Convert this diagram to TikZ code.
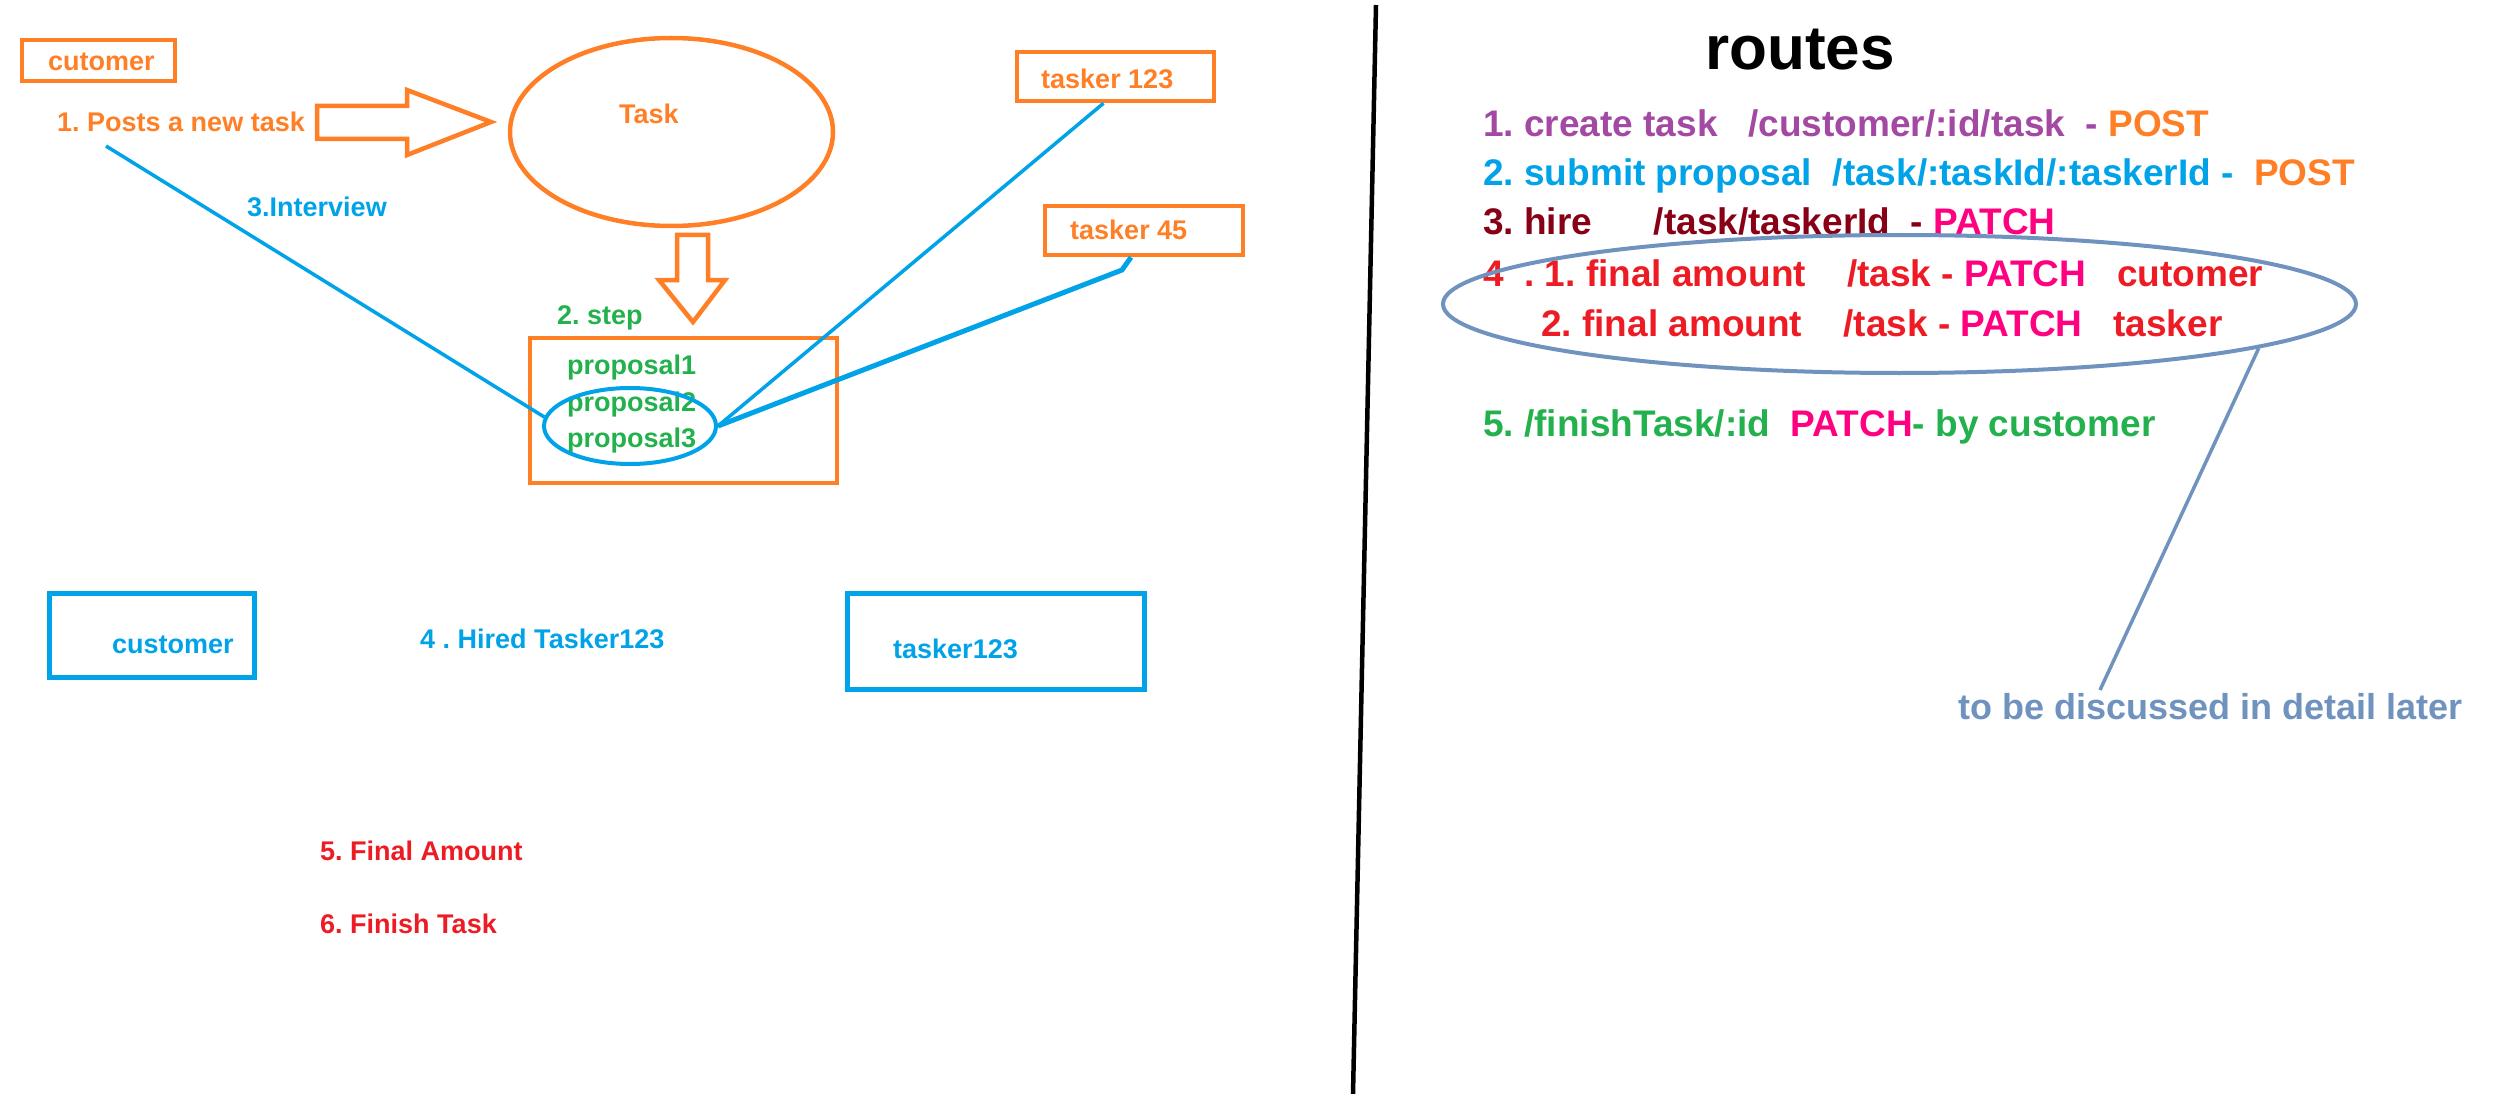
\documentclass[tikz,border=0pt]{standalone}
\usepackage{fontspec}
\setmainfont{Liberation Sans}
\usepackage{tikz}
\usetikzlibrary{shapes.geometric}
\usepackage{xcolor}
\definecolor{paintorange}{RGB}{255,127,39}
\definecolor{paintblue}{RGB}{0,162,232}
\definecolor{paintgreen}{RGB}{34,177,76}
\definecolor{paintred}{RGB}{237,28,36}
\definecolor{paintmaroon}{RGB}{136,0,21}
\definecolor{paintpurple}{RGB}{163,73,164}
\definecolor{paintpink}{RGB}{255,0,128}
\definecolor{paintgrey}{RGB}{112,146,190}
\frenchspacing

\begin{document}
\begin{tikzpicture}[x=1pt,y=-1pt]
\tikzstyle{txt} = [anchor=base west, inner sep=0pt,
font=\fontsize{27}{32}\selectfont\bfseries]
\tikzstyle{route} = [anchor=base west, inner sep=0pt,
font=\fontsize{37}{42}\selectfont\bfseries]
\tikzstyle{obox} = [rectangle, draw=paintorange, line width=4.5pt, inner sep=0pt]
\tikzstyle{bbox} = [rectangle, draw=paintblue, line width=5pt, inner sep=0pt]
\tikzstyle{oval} = [ellipse, draw=paintorange, line width=4.5pt, inner sep=0pt]
\tikzstyle{bigarrow} = [draw=paintorange, line width=4.5pt, fill=white, line join=miter]
\tikzstyle{link} = [draw=paintblue, line width=3.5pt];

\useasboundingbox (0,0) rectangle (2506,1094);

% left half: flow
\node [obox, minimum width=153pt, minimum height=41pt] (cutomerbox) at (98.5,60.5) {};
\node [txt, paintorange] (cutomer) at (48,71) {cutomer};
\node [txt, paintorange] (posts) at (57,132) {1. Posts a new task};
\node [oval, minimum width=323pt, minimum height=188pt] (taskoval) at (671.5,132) {};
\node [txt, paintorange] (task) at (619,124) {Task};
\node [txt, paintblue] (interview) at (247,217) {3.Interview};

\node [obox, minimum width=197pt, minimum height=49pt] (tasker1box) at (1115.5,76.5) {};
\node [txt, paintorange] (tasker1) at (1041,89) {tasker 123};
\node [obox, minimum width=198pt, minimum height=49pt] (tasker45box) at (1144,230.5) {};
\node [txt, paintorange] (tasker45) at (1070,240) {tasker 45};

\node [txt, paintgreen] (step) at (557,324) {2. step};
\node [obox, minimum width=307pt, minimum height=145pt] (propbox) at (683.5,410.5) {};
\node [txt, paintgreen] (prop1) at (567,374) {proposal1};
\node [txt, paintgreen] (prop2) at (567,411) {proposal2};
\node [txt, paintgreen] (prop3) at (567,447) {proposal3};
\node [ellipse, draw=paintblue, line width=4pt, inner sep=0pt,
minimum width=172pt, minimum height=76pt] (propoval) at (630,426) {};

\node [bbox, minimum width=205pt, minimum height=84pt] (custbox) at (152,635.5) {};
\node [txt, paintblue] (customer) at (112,653) {customer};
\node [txt, paintblue] (hired) at (420,648) {4 . Hired Tasker123};
\node [bbox, minimum width=297pt, minimum height=96pt] (hiredbox) at (996,641.5) {};
\node [txt, paintblue] (tasker123) at (893,658) {tasker123};

\node [txt, paintred] (final) at (320,860) {5. Final Amount};
\node [txt, paintred] (finish) at (320,933) {6. Finish Task};

% block arrows
\draw [bigarrow] (317,106) -- (407,106) -- (407,90) -- (491,122) -- (407,155)
  -- (407,139) -- (317,139) -- cycle;
\draw [bigarrow] (677,235) -- (708,235) -- (708,280) -- (725,280) -- (693,322)
  -- (659,280) -- (677,280) -- cycle;

% interview lines
\coordinate (custline) at (106,146);
\coordinate (kink) at (1122,270);
\path [link] (custline) -- (propoval.174);
\path [link] ([xshift=-12pt]tasker1box.south) -- (propoval.east);
\path [link, line width=5pt] ([xshift=-13pt]tasker45box.south) -- (kink) -- (propoval.east);

% divider
\draw [line width=4.5pt] (1376,5) -- (1353,1094);

% right half: routes
\node [anchor=base west, inner sep=0pt, font=\fontsize{62}{70}\selectfont\bfseries]
(routes) at (1705,70) {routes};
\node [route] (r1) at (1483,137) {\textcolor{paintpurple}{1. create task\ \ \ /customer/:id/task\ \ -\ }\textcolor{paintorange}{POST}};
\node [route] (r2) at (1483,186) {\textcolor{paintblue}{2. submit proposal\ \ /task/:taskId/:taskerId -\ \ }\textcolor{paintorange}{POST}};
\node [route] (r3) at (1483,235) {\textcolor{paintmaroon}{3. hire\ \ \ \ \ \ /task/taskerId\ \ -\ }\textcolor{paintpink}{PATCH}};
\node [route] (r4) at (1483,286) {\textcolor{paintred}{4\ \ . 1. final amount\ \ \ \ /task -\ }\textcolor{paintpink}{PATCH}\textcolor{paintred}{\ \ \ cutomer}};
\node [route] (r5) at (1541,336) {\textcolor{paintred}{2. final amount\ \ \ \ /task -\ }\textcolor{paintpink}{PATCH}\textcolor{paintred}{\ \ \ tasker}};
\node [route] (r6) at (1483,436) {\textcolor{paintgreen}{5. /finishTask/:id\ \ }\textcolor{paintpink}{PATCH}\textcolor{paintgreen}{- by customer}};

\node [ellipse, draw=paintgrey, line width=4pt, inner sep=0pt,
minimum width=913pt, minimum height=138pt] (finaloval) at (1899.5,304) {};
\node [route, paintgrey, font=\fontsize{36}{42}\selectfont\bfseries] (note) at (1958,719) {to be discussed in detail later};
\coordinate (noteend) at (2100,690);
\path [draw=paintgrey, line width=3.5pt] (finaloval.-7.5) -- (noteend);
\end{tikzpicture}
\end{document}
